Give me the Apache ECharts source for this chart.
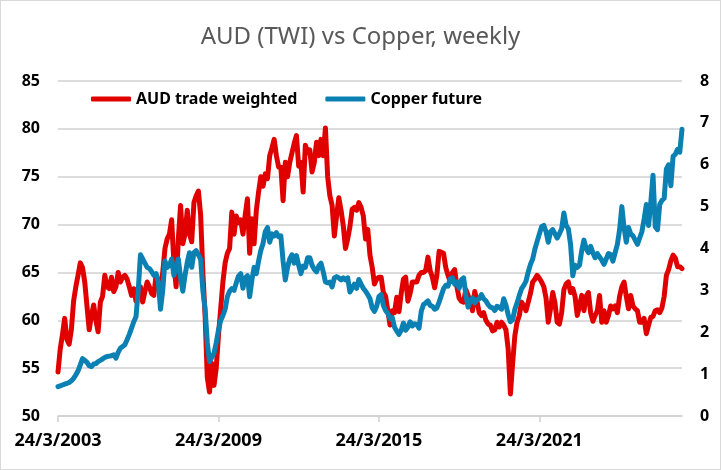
<!DOCTYPE html>
<html>
<head>
<meta charset="utf-8">
<title>AUD (TWI) vs Copper, weekly</title>
<script src="https://cdn.jsdelivr.net/npm/echarts@6/dist/echarts.min.js"></script>
<style>
  html, body { margin: 0; padding: 0; background: #fff; }
  #wrap { position: relative; width: 721px; height: 470px; }
  #chart { position: absolute; left: 0; top: 0; width: 721px; height: 470px; }
  #frame { position: absolute; left: 0; top: 0; width: 721px; height: 470px;
           box-sizing: border-box; border: 1px solid #d9d9d9; pointer-events: none; }
</style>
</head>
<body>
<div id="wrap">
  <div id="chart"></div>
  <div id="frame"></div>
</div>
<script>
// monthly samples, March 2003 .. July 2026
const startYear = 2003;
const startMonth = 3;
const monthCount = 281;
const labelEvery = 72; // one label every 6 years

// AUD trade weighted index (left axis)
const audTwi = [
  54.6, 57, 58.5, 60.2, 58, 57.5, 59, 62, 63.5, 64.7,
  66, 65.5, 64, 61.5, 59, 60.5, 61.6, 60, 58.8, 61.9,
  62.5, 64.7, 63.5, 63.3, 64.5, 63, 63.5, 65, 64, 64.5,
  64.7, 64.3, 63.5, 62.6, 63.3, 62, 63.3, 63.5, 61.9, 63,
  64, 63.5, 62.8, 62.6, 64.7, 64, 63.6, 65, 67.5, 68.5,
  69, 70.5, 66, 63.5, 68.5, 72, 68, 69, 71.5, 69,
  68.2, 72.3, 73, 73.5, 71, 65, 60.5, 54, 52.5, 55.5,
  53.2, 55, 58.4, 61.2, 64, 66, 67, 67.5, 71.3, 69,
  70.9, 70.2, 70.5, 69, 71, 72.7, 67, 70.6, 68, 71.5,
  73.4, 75, 74, 75.3, 74.8, 77.2, 78, 78.9, 77.2, 76,
  76, 72.5, 76.5, 75, 76.5, 77.5, 78.5, 79.3, 76.1, 76.5,
  73.4, 78.3, 77.5, 77.8, 75.5, 76.5, 78.6, 77.2, 78.9, 77.2,
  80.1, 75, 73, 72, 68.8, 70.9, 72.8, 71.5, 69.9, 67.5,
  68.5, 69.8, 71.6, 71.8, 71.5, 72.3, 71.8, 70.9, 68.5, 69.5,
  66.8, 65.5, 63.8, 64.3, 64.5, 64.5, 62.9, 62.5, 61, 59.5,
  61, 60.8, 62.4, 60.9, 62.8, 64.3, 64.5, 62, 62.8, 64,
  64, 64, 64.7, 65, 65, 65.2, 66.6, 65.2, 64.5, 63.4,
  64.7, 67.2, 67.1, 67, 65.5, 64.7, 64, 65, 65.3, 63.5,
  62.3, 62, 61.9, 63.2, 62.6, 62, 61, 63, 62, 60.8,
  60.5, 60.8, 60, 59.6, 59.5, 58.9, 59, 59.8, 59.3, 59.8,
  59.5, 59, 57, 52.3, 55.5, 58.4, 59.8, 60.5, 61.9, 61.5,
  61, 61.9, 62.8, 64, 64.3, 64.7, 64.4, 64, 63.5, 62.3,
  59.8, 61.2, 62.9, 61.8, 59.8, 59.6, 60.8, 63.2, 63.8, 64,
  62.9, 63.3, 62.5, 60.5, 61.5, 62.6, 61, 62.5, 62.9, 60.8,
  59.9, 60.5, 61, 62.6, 59.8, 61, 59.8, 60.5, 61.5, 61.2,
  61.5, 60.8, 62.5, 63.5, 64, 62.5, 61.2, 62.6, 61.5, 61.2,
  61, 59.8, 59.8, 60.2, 58.6, 59.5, 60.3, 60.4, 61, 61.1,
  60.8, 61.3, 62.5, 64.7, 65.3, 66.2, 66.8, 66.5, 65.6, 65.6, 65.4
];

// copper future, USD/lb (right axis)
const copper = [
  0.70, 0.72, 0.74, 0.76, 0.78, 0.80, 0.84, 0.90, 0.98, 1.08,
  1.22, 1.37, 1.33, 1.28, 1.20, 1.18, 1.24, 1.25, 1.30, 1.33,
  1.36, 1.40, 1.42, 1.43, 1.44, 1.46, 1.38, 1.52, 1.62, 1.66,
  1.70, 1.82, 1.95, 2.10, 2.25, 2.37, 3.00, 3.85, 3.75, 3.65,
  3.55, 3.52, 3.45, 3.36, 3.40, 3.20, 2.55, 3.00, 3.70, 3.55,
  3.60, 3.75, 3.36, 3.55, 3.75, 3.30, 2.98, 3.36, 3.67, 3.90,
  3.55, 3.90, 3.95, 3.85, 3.75, 3.00, 2.56, 1.75, 1.30, 1.40,
  1.50, 1.75, 2.05, 2.28, 2.40, 2.55, 2.85, 2.98, 3.04, 3.00,
  3.18, 3.34, 3.40, 3.05, 3.30, 3.35, 2.85, 3.25, 3.55, 3.40,
  3.70, 3.95, 4.12, 4.40, 4.50, 4.15, 4.35, 4.30, 4.38, 4.28,
  4.30, 3.70, 3.25, 3.55, 3.75, 3.85, 3.65, 3.83, 3.60, 3.40,
  3.58, 3.55, 3.78, 3.78, 3.60, 3.50, 3.44, 3.58, 3.65, 3.45,
  3.20, 3.18, 3.20, 3.08, 3.30, 3.33, 3.30, 3.25, 3.30, 3.25,
  3.30, 2.96, 3.05, 3.15, 3.05, 3.26, 3.15, 3.05, 2.98, 2.90,
  2.80, 2.58, 2.50, 2.62, 2.85, 2.90, 2.64, 2.52, 2.45, 2.33,
  2.35, 2.12, 2.03, 1.95, 2.05, 2.22, 2.05, 2.12, 2.25, 2.15,
  2.20, 2.18, 2.10, 2.50, 2.66, 2.70, 2.75, 2.64, 2.62, 2.55,
  2.58, 2.72, 2.88, 3.04, 3.12, 3.10, 3.28, 3.30, 3.15, 3.20,
  3.05, 3.25, 3.30, 2.90, 2.60, 2.75, 2.82, 2.70, 2.78, 2.80,
  2.90, 2.80, 2.75, 2.66, 2.60, 2.58, 2.52, 2.62, 2.60, 2.55,
  2.80, 2.65, 2.42, 2.25, 2.30, 2.55, 2.70, 2.88, 3.04, 3.12,
  3.22, 3.44, 3.62, 3.75, 3.99, 4.17, 4.35, 4.52, 4.55, 4.40,
  4.15, 4.40, 4.45, 4.35, 4.25, 4.35, 4.47, 4.85, 4.55, 4.47,
  4.10, 3.35, 3.60, 3.55, 3.60, 3.95, 4.20, 4.00, 3.90, 4.05,
  3.90, 3.78, 3.88, 3.80, 3.72, 3.62, 3.75, 3.88, 3.85, 3.70,
  3.90, 4.10, 4.45, 5.00, 4.50, 4.15, 4.50, 4.35, 4.30, 4.20,
  4.10, 4.25, 4.40, 4.70, 5.05, 4.55, 5.10, 5.75, 4.52, 4.45,
  5.05, 5.15, 5.20, 5.90, 6.00, 5.50, 6.20, 6.25, 6.37, 6.30, 6.85
];

// category labels d/m/yyyy, one per month on the 24th
const dates = [];
for (let k = 0; k < monthCount; k++) {
  const m0 = startMonth - 1 + k;
  dates.push("24/" + ((m0 % 12) + 1) + "/" + (startYear + Math.floor(m0 / 12)));
}

const FONT = "Noto Sans";
const GRID_COLOR = "#d0d0d0";
const everySixYears = (index) => index % labelEvery === 0;

const chart = echarts.init(document.getElementById("chart"));

const option = {
  animation: false,
  title: {
    text: "AUD (TWI) vs Copper, weekly",
    left: "center",
    top: 20,
    textStyle: {
      fontFamily: FONT,
      fontSize: 24,
      fontWeight: "normal",
      color: "#595959",
    },
  },
  legend: {
    left: 86,
    top: 86,
    icon: "roundRect",
    itemWidth: 40,
    itemHeight: 5,
    itemGap: 28,
    textStyle: {
      fontFamily: FONT,
      fontSize: 16,
      fontWeight: "bold",
      color: "#000",
    },
    data: ["AUD trade weighted", "Copper future"],
  },
  grid: {
    left: 58,
    right: 39,
    top: 81,
    bottom: 54,
  },
  xAxis: {
    type: "category",
    data: dates,
    boundaryGap: false,
    axisLine: { lineStyle: { color: GRID_COLOR, width: 1.5 } },
    axisTick: {
      interval: everySixYears,
      length: 6,
      lineStyle: { color: GRID_COLOR, width: 1.5 },
    },
    axisLabel: {
      interval: everySixYears,
      hideOverlap: false,
      margin: 16,
      fontFamily: FONT,
      fontSize: 18,
      fontWeight: "bold",
      color: "#000",
    },
    splitLine: { show: false },
  },
  yAxis: [
    {
      type: "value",
      min: 50,
      max: 85,
      interval: 5,
      axisLine: { show: false },
      axisTick: { show: false },
      splitLine: { lineStyle: { color: GRID_COLOR, width: 1.5 } },
      axisLabel: {
        margin: 18,
        fontFamily: FONT,
        fontSize: 16,
        fontWeight: "bold",
        color: "#000",
      },
    },
    {
      type: "value",
      min: 0,
      max: 8,
      interval: 1,
      position: "right",
      axisLine: { show: false },
      axisTick: { show: false },
      splitLine: { show: false },
      axisLabel: {
        margin: 18,
        fontFamily: FONT,
        fontSize: 16,
        fontWeight: "bold",
        color: "#000",
      },
    },
  ],
  series: [
    {
      name: "AUD trade weighted",
      type: "line",
      yAxisIndex: 0,
      data: audTwi,
      showSymbol: false,
      lineStyle: { width: 5, color: "#e00000", cap: "round", join: "round" },
      itemStyle: { color: "#e00000" },
    },
    {
      name: "Copper future",
      type: "line",
      yAxisIndex: 1,
      data: copper,
      showSymbol: false,
      lineStyle: { width: 5, color: "#0b80b3", cap: "round", join: "round" },
      itemStyle: { color: "#0b80b3" },
    },
  ],
};

chart.setOption(option);
</script>
</body>
</html>
